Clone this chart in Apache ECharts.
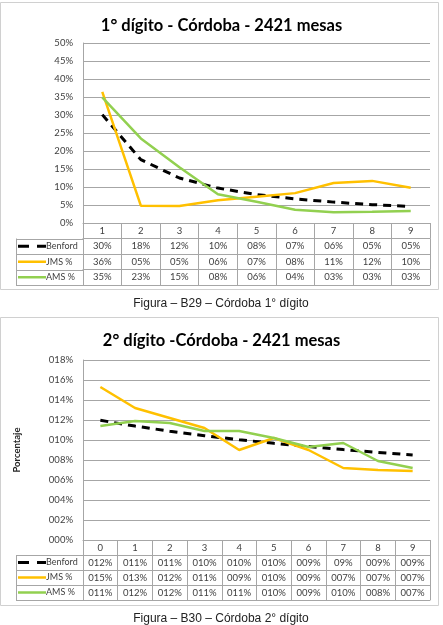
<!DOCTYPE html>
<html>
<head>
<meta charset="utf-8">
<script src="https://cdn.jsdelivr.net/npm/echarts@6/dist/echarts.min.js"></script>
<style>html,body{margin:0;padding:0;background:#fff;}#c{width:443px;height:625px;}</style>
</head>
<body>
<div id="c"></div>
<script>
// ---- Chart 1 data (1st digit) ----
const digits1 = ['1','2','3','4','5','6','7','8','9'];
const benford1 = [30.1, 17.6, 12.5, 9.7, 7.9, 6.7, 5.8, 5.1, 4.6];
const jms1 = [36.4, 4.8, 4.7, 6.3, 7.3, 8.3, 11.1, 11.7, 9.8];
const ams1 = [34.9, 23.5, 15.5, 8.0, 5.9, 3.7, 3.0, 3.1, 3.3];
const benford1Txt = ['30%','18%','12%','10%','08%','07%','06%','05%','05%'];
const jms1Txt = ['36%','05%','05%','06%','07%','08%','11%','12%','10%'];
const ams1Txt = ['35%','23%','15%','08%','06%','04%','03%','03%','03%'];

// ---- Chart 2 data (2nd digit) ----
const digits2 = ['0','1','2','3','4','5','6','7','8','9'];
const benford2 = [11.97, 11.39, 10.88, 10.43, 10.03, 9.67, 9.34, 9.04, 8.76, 8.5];
const jms2 = [15.3, 13.2, 12.2, 11.2, 9.0, 10.2, 9.0, 7.2, 7.0, 6.9];
const ams2 = [11.4, 11.9, 11.7, 10.9, 10.9, 10.2, 9.3, 9.7, 7.9, 7.2];
const benford2Txt = ['012%','011%','011%','010%','010%','010%','009%','09%','009%','009%'];
const jms2Txt = ['015%','013%','012%','011%','009%','010%','009%','007%','007%','007%'];
const ams2Txt = ['011%','012%','012%','011%','011%','010%','009%','010%','008%','007%'];

const seriesNames = ['Benford','JMS %','AMS %'];
const colors = ['#000000','#FFC000','#92D050'];

const FONT = 'Lato, "Open Sans", sans-serif';
const GRID_LINE = '#a6a6a6';
const TXT = '#404040';
const L = 83, R = 430, W = 443;

const charts = [
  {top: 43, h: 180, rowH: 15.5, cats: digits1, vals: [benford1, jms1, ams1], txt: [benford1Txt, jms1Txt, ams1Txt],
   max: 50, interval: 5, fmt: v => v + '%', title: '1° dígito - Córdoba - 2421 mesas', titleY: 12,
   frame: [2, 289], caption: 'Figura – B29 – Córdoba 1° dígito', capY: 304, yName: ''},
  {top: 360, h: 180, rowH: 15, cats: digits2, vals: [benford2, jms2, ams2], txt: [benford2Txt, jms2Txt, ams2Txt],
   max: 18, interval: 2, fmt: v => String(v).padStart(3, '0') + '%', title: '2° dígito -Córdoba - 2421 mesas', titleY: 327,
   frame: [317, 605], caption: 'Figura – B30 – Córdoba 2° dígito', capY: 619, yName: 'Porcentaje'}
];

const grid = [], xAxis = [], yAxis = [], series = [], title = [], graphic = [];

charts.forEach((c, gi) => {
  grid.push({left: L, right: W - R, top: c.top, height: c.h, containLabel: false});
  const base = c.top + c.h;
  const rowsData = [c.cats].concat(c.txt);
  rowsData.forEach((d, ri) => {
    xAxis.push({
      gridIndex: gi, type: 'category', data: d, position: 'bottom', offset: ri * c.rowH,
      boundaryGap: true,
      axisLine: {show: true, lineStyle: {color: GRID_LINE, width: 1}},
      axisTick: {show: true, alignWithLabel: false, interval: 0, length: c.rowH, lineStyle: {color: GRID_LINE}},
      axisLabel: {interval: 0, margin: 2.5, fontSize: 9.5, color: TXT, fontFamily: FONT},
      splitLine: {show: false}
    });
  });
  // bottom closing line of table
  xAxis.push({
    gridIndex: gi, type: 'category', data: c.cats.map(() => ''), position: 'bottom', offset: 4 * c.rowH,
    axisLine: {show: true, lineStyle: {color: GRID_LINE}}, axisTick: {show: false}, axisLabel: {show: false}
  });
  yAxis.push({
    gridIndex: gi, type: 'value', min: 0, max: c.max, interval: c.interval,
    axisLine: {show: true, lineStyle: {color: GRID_LINE}}, axisTick: {show: false},
    axisLabel: {formatter: c.fmt, fontSize: 9.5, color: TXT, fontFamily: FONT, margin: 10},
    splitLine: {show: true, lineStyle: {color: GRID_LINE, width: 1}},
    name: c.yName, nameLocation: 'middle', nameRotate: 90, nameGap: 61,
    nameTextStyle: {fontSize: 9.5, fontWeight: 'bold', color: '#262626', fontFamily: FONT}
  });
  const xi = gi * 5;
  seriesNames.forEach((n, si) => {
    series.push({
      name: n, type: 'line', xAxisIndex: xi, yAxisIndex: gi, data: c.vals[si],
      symbol: 'none', smooth: false, animation: false,
      lineStyle: si === 0 ? {color: colors[si], width: 3, type: [8, 6]} : {color: colors[si], width: 2.5},
      itemStyle: {color: colors[si]}
    });
  });
  title.push({
    text: c.title, left: 'center', top: c.titleY,
    textStyle: {fontSize: 16.5, fontWeight: 'bold', color: '#000', fontFamily: FONT}
  });
  // legend keys in the table's first column
  seriesNames.forEach((n, si) => {
    const cy = base + (si + 1.5) * c.rowH;
    graphic.push({type: 'line', silent: true,
      shape: {x1: 18, y1: cy, x2: 46, y2: cy},
      style: si === 0 ? {stroke: colors[si], lineWidth: 3, lineDash: [11, 8]} : {stroke: colors[si], lineWidth: 2.5}});
    graphic.push({type: 'text', silent: true, x: 46, y: cy,
      style: {text: n, fontSize: 9, fontFamily: FONT, fill: TXT, textAlign: 'left', textVerticalAlign: 'middle'}});
  });
  // left legend-column borders
  for (let k = 1; k <= 4; k++) {
    const y = Math.round(base + k * c.rowH) + 0.5;
    graphic.push({type: 'line', shape: {x1: 16, y1: y, x2: L, y2: y}, style: {stroke: GRID_LINE, lineWidth: 1}, silent: true});
  }
  graphic.push({type: 'line', shape: {x1: 16.5, y1: base + c.rowH, x2: 16.5, y2: base + 4 * c.rowH}, style: {stroke: GRID_LINE, lineWidth: 1}, silent: true});
  // chart frame
  graphic.push({type: 'rect', shape: {x: 0.5, y: c.frame[0] + 0.5, width: 438, height: c.frame[1] - c.frame[0]},
    style: {fill: 'none', stroke: '#d0d0d0', lineWidth: 1}, silent: true, z: -1});
  // caption
  graphic.push({type: 'text', x: 221, y: c.capY, silent: true,
    style: {text: c.caption, fontSize: 12, fontFamily: '"Liberation Sans", Arial, sans-serif', fill: '#222',
      textAlign: 'center', textVerticalAlign: 'middle'}});
});

const chart = echarts.init(document.getElementById('c'), null, {renderer: 'canvas'});
chart.setOption({
  backgroundColor: '#fff', animation: false,
  title, grid, xAxis, yAxis, series, graphic
});
</script>
</body>
</html>
